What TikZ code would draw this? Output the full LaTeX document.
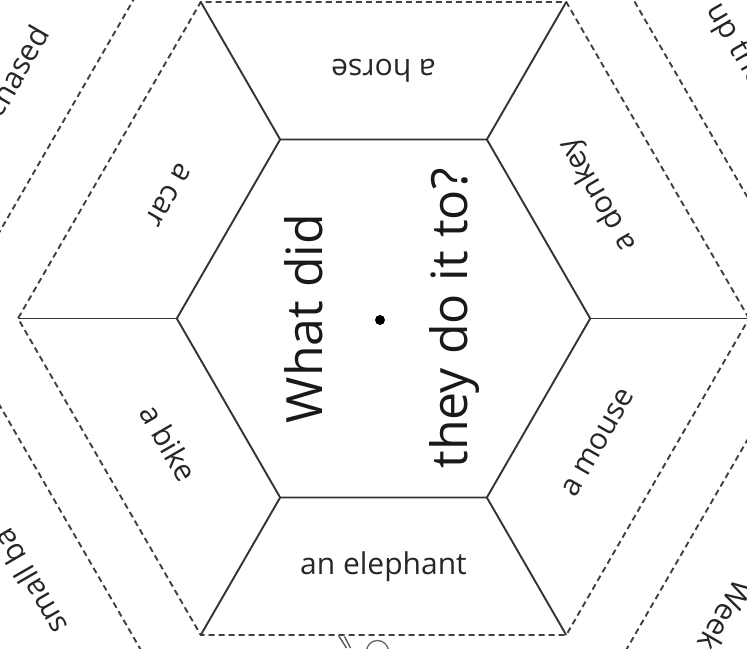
\documentclass[tikz,border=0pt]{standalone}
\usepackage{fontspec}
\setmainfont{Open Sans}
\usetikzlibrary{calc}

\begin{document}
\begin{tikzpicture}[
  x=1pt, y=1pt,
  cut/.style={draw=black!75, line width=1.9pt, dash pattern=on 6pt off 4pt},
  fold/.style={draw=black!80, line width=1.9pt},
  word/.style={font=\fontsize{30}{36}\selectfont, text=black!85, inner sep=0pt},
  big/.style={font=\fontsize{50}{60}\selectfont, text=black!90, inner sep=0pt}
]
\clip (-383.5,-329.5) rectangle (363.5,318.5);
% corners of the three hexagons
\foreach \i in {0,...,5}{
  \coordinate (i\i) at (\i*60:206.7);
  \coordinate (o\i) at (\i*60:365.5);
  \coordinate (n\i) at (\i*60:434);
}
\draw[fold] (i0) -- (i1) -- (i2) -- (i3) -- (i4) -- (i5) -- cycle;
\draw[cut] (o0) -- (o1) -- (o2) -- (o3) -- (o4) -- (o5) -- cycle;
\draw[cut] (n0) -- (n1) -- (n2) -- (n3) -- (n4) -- (n5) -- cycle;
\foreach \i in {0,...,5}
  \draw[fold] (i\i) -- (o\i);

% answers round the middle
\foreach \a/\t in {90/a horse, 30/a donkey, -30/a mouse, -90/an elephant, 210/a bike, 150/a car}
  \node[word, rotate=\a+90] (ans\a) at (\a:248) {\t};

% question
\node[big, rotate=90, anchor=base] (what) at (-60.5,0) {What did};
\node[big, rotate=90, anchor=base] (they) at (83.5,0) {they do it to?};
\node[circle, fill=black, inner sep=0pt, minimum size=10pt] (pin) at (-3.5,-1.5) {};

% bits of the next pieces
\node[word, rotate=60, anchor=east] (chased) at ($(150:442)+(60:80)$) {chased};
\node[word, rotate=-60, anchor=west] (upthe) at ($(30:442)+(120:106)$) {up the};
\node[word, rotate=120, anchor=west] (small) at ($(210:438)+(300:110)$) {small ba};
\node[word, rotate=-120, anchor=west] (week) at ($(-30:445)+(-120:48)$) {Week};
% edge of the picture below
\draw[black!70, line width=1.3pt] (-45,-317) -- (-37,-329.5) (-39,-318) -- (-33,-329.5);
\draw[black!60, line width=1.3pt] (5,-333) arc[start angle=0, end angle=180, radius=11];
\end{tikzpicture}
\end{document}
